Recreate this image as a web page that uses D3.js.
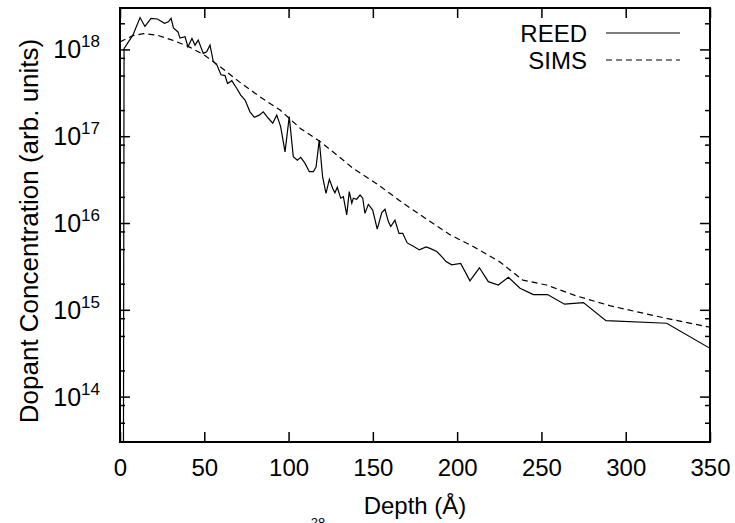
<!DOCTYPE html>
<html>
<head>
<meta charset="utf-8">
<script src="https://cdn.jsdelivr.net/npm/d3@7"></script>
<style>
  body { margin: 0; background: #fff; }
  svg { display: block; }
  text { font-family: "Liberation Sans", Arial, Helvetica, sans-serif; fill: #000; }
</style>
</head>
<body>
<svg id="graph"></svg>
<script>
// depth in Angstrom, concentration in arb. units
const reedDepth = [1.8, 2.4, 7.7, 11.9, 14.8, 18.4, 22.2, 26.4, 28.7, 30.3, 31.7, 34.4, 35.6, 38.6, 40.3, 42.7, 44.5, 46.4, 49.4, 51.4,
  53.4, 55.3, 57.5, 59.9, 62.3, 63.8, 66.3, 69.2, 71.6, 74.2, 77.1, 79.7, 82.6, 85, 88, 90.6, 93, 95.3, 97.9, 100.4,
  102.8, 105.2, 107.2, 109.7, 112.3, 114.7, 116.3, 118.2, 120.2, 122.2, 124.2, 126.2, 127.5, 128.9, 130.9, 132.5, 134.5, 136, 137.5, 138.4,
  140.4, 142.4, 144, 145.3, 147.3, 149.9, 152.6, 155.3, 157.2, 159.2, 160.6, 163.1, 165.5, 167.7, 170.4, 174, 177.6, 181.5, 183.9, 187.9,
  191.4, 193.4, 196.8, 202.1, 207.6, 213.2, 218.5, 224.4, 230.4, 237.3, 245.2, 253.6, 263.7, 274.9, 288.3, 324.3, 350];
const reedConc = [1e10, 1.02e18, 1.47e18, 2.33e18, 1.84e18, 2.28e18, 2.24e18, 2.0e18, 2.08e18, 2.28e18, 1.77e18, 1.59e18, 1.35e18, 1.4e18, 1.07e18, 1.34e18, 1.12e18, 1.28e18, 9.0e17, 9.4e17,
  1.12e18, 7.3e17, 6.6e17, 5.1e17, 5.0e17, 4.05e17, 4.36e17, 3.57e17, 2.98e17, 2.61e17, 1.91e17, 1.65e17, 1.75e17, 1.91e17, 1.61e17, 1.41e17, 1.75e17, 1.29e17, 6.6e16, 1.68e17,
  5.8e16, 5.3e16, 5.7e16, 4.9e16, 3.9e16, 3.9e16, 4.4e16, 9.0e16, 3.4e16, 2.2e16, 3.18e16, 2.5e16, 2.23e16, 2.58e16, 1.93e16, 2.01e16, 1.24e16, 2.3e16, 1.69e16, 1.93e16,
  1.88e16, 2.1e16, 1.93e16, 1.29e16, 1.64e16, 1.41e16, 8.5e15, 1.32e16, 1.44e16, 1.04e16, 9.1e15, 1.08e16, 7.6e15, 7.6e15, 5.9e15, 5.4e15, 4.9e15, 5.3e15, 5.1e15, 4.7e15,
  4.0e15, 3.6e15, 3.3e15, 3.43e15, 2.16e15, 3.05e15, 2.11e15, 1.93e15, 2.37e15, 1.77e15, 1.5e15, 1.5e15, 1.16e15, 1.21e15, 7.5e14, 7.0e14, 3.6e14];

const simsDepth = [0, 8, 14, 22, 31, 41, 50, 60, 71, 83, 95, 107, 119, 130, 138, 152, 168, 184, 196, 210, 225, 239, 253, 271, 291, 324, 350];
const simsConc = [1.22e18, 1.45e18, 1.52e18, 1.46e18, 1.28e18, 1.07e18, 8.6e17, 6.2e17, 4.2e17, 2.85e17, 2.0e17, 1.23e17, 8.6e16, 5.8e16, 4.3e16, 2.86e16,
  1.69e16, 1.04e16, 7.3e15, 5.3e15, 3.6e15, 2.2e15, 1.93e15, 1.44e15, 1.11e15, 7.98e14, 6.3e14];

const depthTicks = [0, 50, 100, 150, 200, 250, 300, 350];
const concMajor = [1e14, 1e15, 1e16, 1e17, 1e18];
const concMinor = [5e13, 8e13, 2e14, 5e14, 8e14, 2e15, 5e15, 8e15, 2e16, 5e16, 8e16, 2e17, 5e17, 8e17, 2e18];
const seriesNames = ["REED", "SIMS"];

const width = 735, height = 523;
const margin = { top: 8, right: 25, bottom: 81, left: 120 };

const svg = d3.select("#graph")
  .attr("width", width)
  .attr("height", height);

const xScale = d3.scaleLinear()
  .domain([0, 350])
  .range([margin.left, width - margin.right]);

const yScale = d3.scaleLog()
  .domain([3e13, 3e18])
  .range([height - margin.bottom, margin.top]);

const x0 = margin.left, x1 = width - margin.right;
const y0 = margin.top, y1 = height - margin.bottom;

svg.append("defs").append("clipPath").attr("id", "plot-clip")
  .append("rect")
  .attr("x", x0).attr("y", y0)
  .attr("width", x1 - x0).attr("height", y1 - y0);

// ticks (all pointing inward)
const styleAxis = g => {
  g.select(".domain").remove();
  g.selectAll(".tick line").attr("stroke", "#000").attr("stroke-width", 1.5);
};

svg.append("g")
  .attr("transform", `translate(0,${y1})`)
  .call(d3.axisBottom(xScale).tickValues(depthTicks).tickSizeInner(-10).tickSizeOuter(0).tickPadding(17))
  .call(styleAxis)
  .call(g => g.selectAll("text").attr("font-size", 24).attr("font-family", null));

svg.append("g")
  .attr("transform", `translate(0,${y0})`)
  .call(d3.axisTop(xScale).tickValues(depthTicks).tickSizeInner(-10).tickSizeOuter(0).tickFormat(""))
  .call(styleAxis);

[[d3.axisLeft, x0], [d3.axisRight, x1]].forEach(([axis, pos]) => {
  svg.append("g")
    .attr("transform", `translate(${pos},0)`)
    .call(axis(yScale).tickValues(concMajor).tickSizeInner(-10).tickSizeOuter(0).tickFormat(""))
    .call(styleAxis);
  svg.append("g")
    .attr("transform", `translate(${pos},0)`)
    .call(axis(yScale).tickValues(concMinor).tickSizeInner(-5).tickSizeOuter(0).tickFormat(""))
    .call(styleAxis);
});

// y tick labels as 10^n
const yLabels = svg.append("g");
concMajor.forEach(v => {
  const t = yLabels.append("text")
    .attr("x", 100)
    .attr("y", yScale(v) + 9)
    .attr("text-anchor", "end")
    .attr("font-size", 25);
  t.append("tspan").text("10");
  t.append("tspan").attr("dy", -11).attr("font-size", 17).text(Math.round(Math.log10(v)));
});

// frame
svg.append("rect")
  .attr("x", x0).attr("y", y0)
  .attr("width", x1 - x0).attr("height", y1 - y0)
  .attr("fill", "none")
  .attr("stroke", "#000")
  .attr("stroke-width", 2);

const line = d3.line()
  .x(d => xScale(d[0]))
  .y(d => yScale(d[1]));

const reed = reedDepth.map((d, i) => [d, reedConc[i]]);
const sims = simsDepth.map((d, i) => [d, simsConc[i]]);

const plot = svg.append("g").attr("clip-path", "url(#plot-clip)");
plot.append("path")
  .datum(reed)
  .attr("d", line)
  .attr("fill", "none")
  .attr("stroke", "#000")
  .attr("stroke-width", 1.2);
plot.append("path")
  .datum(sims)
  .attr("d", line)
  .attr("fill", "none")
  .attr("stroke", "#000")
  .attr("stroke-width", 1.2)
  .attr("stroke-dasharray", "6,4");

// legend
const legend = svg.append("g");
seriesNames.forEach((name, i) => {
  const ly = 33 + i * 27;
  legend.append("text")
    .attr("x", 587)
    .attr("y", ly + 9)
    .attr("text-anchor", "end")
    .attr("font-size", 24)
    .text(name);
  legend.append("line")
    .attr("x1", 606).attr("x2", 680)
    .attr("y1", ly).attr("y2", ly)
    .attr("stroke", "#000")
    .attr("stroke-width", 1.2)
    .attr("stroke-dasharray", i === 1 ? "6,4" : null);
});

// axis titles
svg.append("text")
  .attr("x", (x0 + x1) / 2)
  .attr("y", 514)
  .attr("text-anchor", "middle")
  .attr("font-size", 24)
  .text("Depth (Å)");

svg.append("text")
  .attr("transform", `translate(38,${(y0 + y1) / 2 + 6}) rotate(-90)`)
  .attr("text-anchor", "middle")
  .attr("font-size", 26)
  .text("Dopant Concentration (arb. units)");

// stray superscript from the page caption, clipped by the bottom edge
svg.append("text")
  .attr("x", 318)
  .attr("y", 527)
  .attr("text-anchor", "middle")
  .attr("font-size", 13)
  .text("28");
</script>
</body>
</html>
